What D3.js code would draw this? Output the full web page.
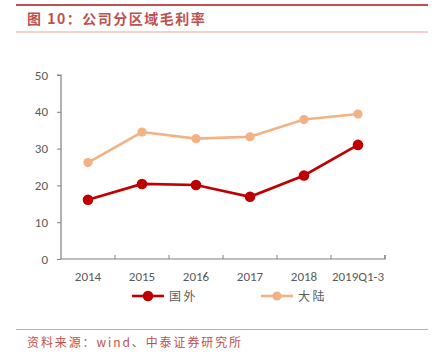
<!DOCTYPE html>
<html>
<head>
<meta charset="utf-8">
<script src="https://cdn.jsdelivr.net/npm/d3@7"></script>
<style>
  body { margin: 0; background: #fff; }
  svg { display: block; font-family: Calibri, Carlito, "Liberation Sans", "DejaVu Sans", sans-serif; }
</style>
</head>
<body>
<svg id="chart" width="440" height="353"></svg>
<script>
const years = ["2014", "2015", "2016", "2017", "2018", "2019Q1-3"];
const overseas = [16.1, 20.4, 20.1, 16.9, 22.7, 31.0];
const mainland = [26.2, 34.5, 32.7, 33.2, 37.9, 39.4];
const yTicks = [0, 10, 20, 30, 40, 50];

const svg = d3.select("#chart");
const red = "#c00000";
const peach = "#f4b183";
const titleRed = "#c0504d";

// header
svg.append("line").attr("x1", 16).attr("x2", 428).attr("y1", 5).attr("y2", 5)
  .attr("stroke", titleRed).attr("stroke-width", 2.2);
svg.append("text").attr("x", 27).attr("y", 24)
  .attr("fill", titleRed).attr("font-size", 14).attr("font-weight", "bold")
  .attr("letter-spacing", 1.5)
  .attr("font-family", "'Noto Sans CJK SC', sans-serif")
  .text("图 10：公司分区域毛利率");
svg.append("line").attr("x1", 16).attr("x2", 428).attr("y1", 32).attr("y2", 32)
  .attr("stroke", "#e0a0a0").attr("stroke-width", 1);

// footer
svg.append("line").attr("x1", 16).attr("x2", 428).attr("y1", 329.5).attr("y2", 329.5)
  .attr("stroke", "#e0a0a0").attr("stroke-width", 1);
svg.append("text").attr("x", 27).attr("y", 347)
  .attr("fill", titleRed).attr("font-size", 12).attr("letter-spacing", 1.9)
  .attr("font-family", "'Noto Sans CJK SC', sans-serif")
  .text("资料来源：wind、中泰证券研究所");

// scales
const x = d3.scaleBand().domain(years).range([61, 385]);
const y = d3.scaleLinear().domain([0, 50]).range([259, 75]);

const axisColor = "#808080";
const textColor = "#595959";

const yAxis = svg.append("g").attr("transform", "translate(61,0)")
  .call(d3.axisLeft(y).tickValues(yTicks).tickSize(4).tickPadding(9));
const xAxis = svg.append("g").attr("transform", "translate(0,259)")
  .call(d3.axisBottom(x).tickSize(4).tickPadding(9).tickFormat(d => d));
// band ticks at category boundaries
xAxis.selectAll(".tick line").remove();
xAxis.selectAll(".bound").data(years).enter().append("line")
  .attr("x1", d => x(d) + x.bandwidth()).attr("x2", d => x(d) + x.bandwidth())
  .attr("y1", 0).attr("y2", -4).attr("stroke", axisColor);
[yAxis, xAxis].forEach(g => {
  g.select(".domain").attr("stroke", axisColor).attr("stroke-width", 1.2);
  g.selectAll(".tick line").attr("stroke", axisColor);
  g.selectAll("text").attr("fill", textColor).attr("font-size", 13)
    .attr("font-family", "Carlito, Calibri, 'Liberation Sans', sans-serif");
});
xAxis.select(".domain").attr("d", "M61,0H385V-4");
yAxis.select(".domain").attr("d", "M-4,75H0V259");

const cx = d => x(d) + x.bandwidth() / 2;
const series = [
  { name: "国外", values: overseas, color: red, r: 5.3, w: 2.6 },
  { name: "大陆", values: mainland, color: peach, r: 4.6, w: 2.6 }
];

const line = d3.line().x((d, i) => cx(years[i])).y(d => y(d));

series.slice().reverse().forEach(s => {
  svg.append("path").datum(s.values).attr("d", line)
    .attr("fill", "none").attr("stroke", s.color).attr("stroke-width", s.w);
  svg.selectAll(null).data(s.values).enter().append("circle")
    .attr("cx", (d, i) => cx(years[i])).attr("cy", d => y(d))
    .attr("r", s.r).attr("fill", s.color);
});

// legend
const legendX = [132, 261];
series.forEach((s, i) => {
  const g = svg.append("g").attr("transform", `translate(${legendX[i]},296)`);
  g.append("line").attr("x1", 0).attr("x2", 32).attr("stroke", s.color).attr("stroke-width", 2.6);
  g.append("circle").attr("cx", 16).attr("r", s.r).attr("fill", s.color);
  g.append("text").attr("x", 37).attr("y", 4.5).attr("fill", textColor).attr("font-size", 12)
    .attr("letter-spacing", 2.5)
    .attr("font-family", "'Noto Sans CJK SC', sans-serif").text(s.name);
});
</script>
</body>
</html>
